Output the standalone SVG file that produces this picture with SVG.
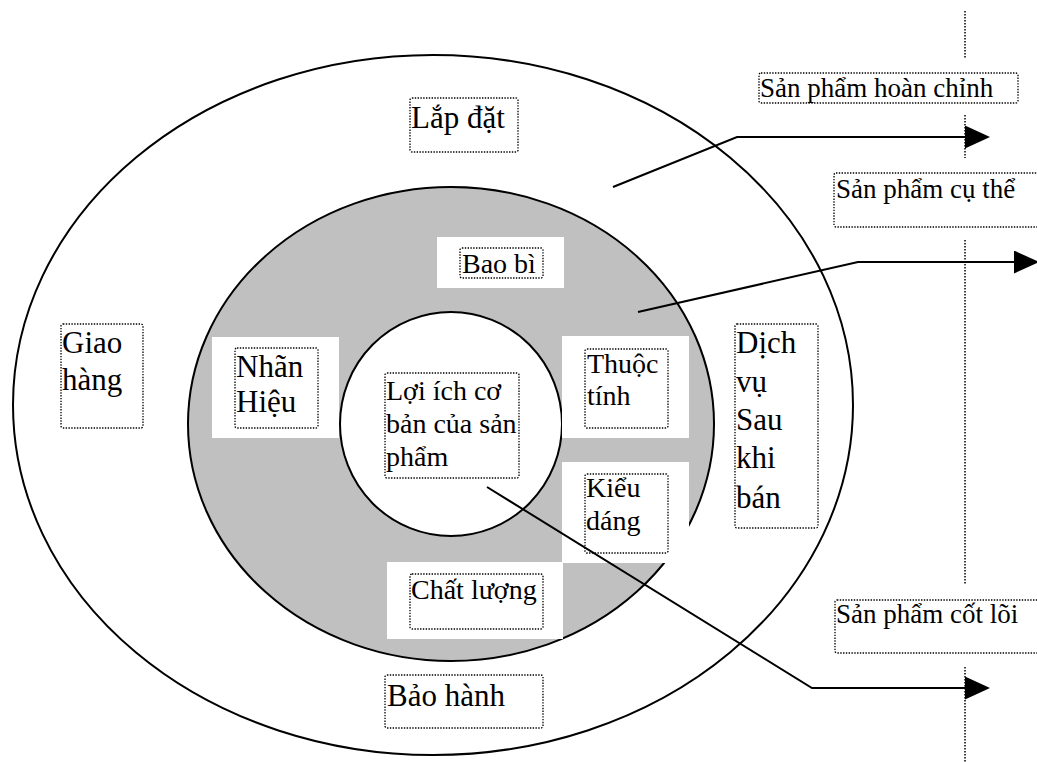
<svg xmlns="http://www.w3.org/2000/svg" width="1037" height="762" viewBox="0 0 1037 762">
<style>
  .big{font-family:"Liberation Serif","Times New Roman",serif;font-size:31px;fill:#000}
  .mid{font-family:"Liberation Serif","Times New Roman",serif;font-size:28px;fill:#000}
  .sm{font-family:"Liberation Serif","Times New Roman",serif;font-size:27px;fill:#000}
  .box{fill:none;stroke:#000;stroke-width:1.3;stroke-dasharray:1.4 1.4}
  .wbox{fill:#fff;stroke:none}
  .ring{stroke:#000;stroke-width:2}
  .arrow{fill:none;stroke:#000;stroke-width:2;marker-end:url(#ah)}
  .vline{stroke:#000;stroke-width:1.5;stroke-dasharray:1.5 1.5}
</style>
<defs>
  <marker id="ah" markerUnits="userSpaceOnUse" markerWidth="27" markerHeight="25" refX="0" refY="11.5" orient="auto">
    <path d="M0,0 L25,11.5 L0,23 Z" fill="#000"/>
  </marker>
  <clipPath id="clipHC"><rect x="759" y="73" width="259" height="30"/></clipPath>
</defs>
<rect width="1037" height="762" fill="#fff"/>

<g id="rings">
  <ellipse class="ring" cx="433" cy="405" rx="420" ry="350" fill="#fff"/>
  <ellipse class="ring" cx="451" cy="424" rx="263" ry="237" fill="#c0c0c0"/>
  <ellipse class="ring" cx="451" cy="424" rx="111" ry="112" fill="#fff"/>
</g>

<g id="vertical-divider">
  <line class="vline" x1="965" y1="11" x2="965" y2="59"/>
  <line class="vline" x1="965" y1="115" x2="965" y2="158"/>
  <line class="vline" x1="965" y1="240" x2="965" y2="585"/>
  <line class="vline" x1="965" y1="667" x2="965" y2="762"/>
</g>

<g id="node-lap-dat">
  <rect class="box" x="410" y="98" width="108" height="54" rx="2"/>
  <text class="big" x="411" y="128">Lắp đặt</text>
</g>
<g id="node-bao-bi">
  <rect class="wbox" x="437" y="237" width="127" height="51"/>
  <rect class="box" x="460" y="248" width="83" height="30" rx="2"/>
  <text class="mid" x="462" y="273">Bao bì</text>
</g>
<g id="node-nhan-hieu">
  <rect class="wbox" x="212" y="337" width="127" height="101"/>
  <rect class="box" x="235" y="348" width="83" height="80" rx="2"/>
  <text class="big" x="236" y="377">Nhãn</text>
  <text class="big" x="236" y="412">Hiệu</text>
</g>
<g id="node-thuoc-tinh">
  <rect class="wbox" x="562" y="336" width="127" height="102"/>
  <rect class="box" x="585" y="349" width="83" height="79" rx="2"/>
  <text class="mid" x="587" y="373">Thuộc</text>
  <text class="mid" x="587" y="405">tính</text>
</g>
<g id="node-kieu-dang">
  <rect class="wbox" x="562" y="462" width="127" height="101"/>
  <rect class="box" x="585" y="474" width="83" height="79" rx="2"/>
  <text class="mid" x="586" y="497">Kiểu</text>
  <text class="mid" x="586" y="530">dáng</text>
</g>
<g id="node-chat-luong">
  <rect class="wbox" x="387" y="562" width="176" height="77"/>
  <rect class="box" x="410" y="574" width="133" height="55" rx="2"/>
  <text class="mid" x="411" y="599">Chất lượng</text>
</g>
<g id="node-loi-ich">
  <rect class="box" x="385" y="373" width="134" height="105" rx="2"/>
  <text class="mid" x="386" y="400">Lợi ích cơ</text>
  <text class="mid" x="386" y="433">bản của sản</text>
  <text class="mid" x="386" y="466">phẩm</text>
</g>
<g id="node-dich-vu">
  <rect class="box" x="735" y="324" width="83" height="204" rx="2"/>
  <text class="big" x="736" y="353">Dịch</text>
  <text class="big" x="736" y="392">vụ</text>
  <text class="big" x="736" y="430">Sau</text>
  <text class="big" x="736" y="468">khi</text>
  <text class="big" x="736" y="508">bán</text>
</g>
<g id="node-giao-hang">
  <rect class="box" x="61" y="324" width="82" height="104" rx="2"/>
  <text class="big" x="62" y="353">Giao</text>
  <text class="big" x="62" y="390">hàng</text>
</g>
<g id="node-bao-hanh">
  <rect class="box" x="385" y="675" width="158" height="53" rx="2"/>
  <text class="big" x="387" y="706">Bảo hành</text>
</g>
<g id="node-hoan-chinh">
  <text class="sm" x="760" y="97" clip-path="url(#clipHC)">Sản phẩm hoàn chỉnh</text>
  <rect class="box" x="759" y="73" width="259" height="30" rx="2"/>
</g>
<g id="node-cu-the">
  <rect class="box" x="834" y="173" width="210" height="54" rx="2"/>
  <text class="sm" x="836" y="198">Sản phẩm cụ thể</text>
</g>
<g id="node-cot-loi">
  <rect class="box" x="835" y="600" width="210" height="53" rx="2"/>
  <text class="sm" x="836" y="623">Sản phẩm cốt lõi</text>
</g>

<g id="connectors">
  <polyline class="arrow" points="613,187 737,137 965,137"/>
  <polyline class="arrow" points="638,312 858,262 1014,262"/>
  <polyline class="arrow" points="487,487 812,688 965,688"/>
</g>
</svg>
